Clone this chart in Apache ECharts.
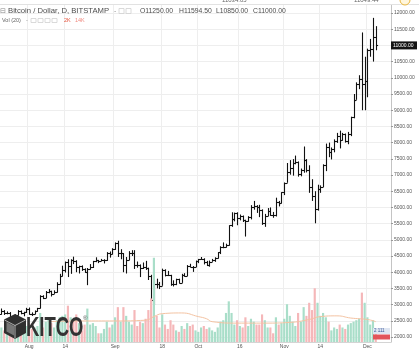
<!DOCTYPE html>
<html>
<head>
<meta charset="utf-8">
<script src="https://cdn.jsdelivr.net/npm/echarts@6/dist/echarts.min.js"></script>
<style>
    html, body { margin: 0; padding: 0; background: #fff; }
    #chart { width: 419px; height: 351px; }
</style>
</head>
<body>
<div id="chart"></div>
<script>
    // daily bars from 2017-07-22 to 2017-12-04 (BTC/USD, Bitstamp)
    const startDay = Date.UTC(2017, 6, 22);
    const dayCount = 141; // 136 bars + a few empty days on the right

    const opens = [
        2718, 2810, 2730, 2754, 2576, 2529, 2671, 2809, 2726, 2757,
        2875, 2718, 2710, 2804, 2895, 3252, 3213, 3378, 3419, 3342, 3381, 3650, 3884, 4073, 4325, 4181, 4376, 4331, 4160, 4193, 4088, 4001, 4100, 4151, 4334, 4371, 4352, 4382, 4382, 4579, 4565,
        4703, 4892, 4578, 4582, 4236, 4376, 4597, 4599, 4228, 4226, 4122, 4161, 4130, 3882, 3154, 3637, 3625, 3582, 4065, 3924, 3905, 3631, 3630, 3792, 3682, 3926, 3892, 4200, 4174, 4163,
        4338, 4403, 4409, 4317, 4229, 4328, 4370, 4426, 4611, 4772, 4781, 4826, 5446, 5647, 5831, 5679, 5725, 5605, 5590, 5708, 6011, 6031, 6008, 5930, 5526, 5750, 5904, 5780, 5753, 6153, 6130,
        6468, 6767, 7078, 7207, 7379, 7407, 7022, 7144, 7459, 7143, 6618, 6357, 5950, 6559, 6635, 7315, 7871, 7708, 7790, 8036, 8200, 8071, 8253, 8038, 8253, 8790, 9330, 9818, 9950, 9800,
        9900, 10850, 10900, 11250
    ];
    const highs = [
        2880, 2830, 2790, 2770, 2610, 2700, 2830, 2820, 2780, 2900,
        2910, 2760, 2820, 2900, 3290, 3290, 3420, 3480, 3430, 3440, 3690, 3950, 4200, 4330, 4400, 4400, 4480, 4370, 4200, 4210, 4120, 4130, 4250, 4350, 4460, 4380, 4410, 4400, 4620, 4640, 4740,
        4920, 4970, 4710, 4590, 4470, 4650, 4680, 4680, 4330, 4240, 4300, 4350, 4140, 3920, 3750, 3800, 3700, 4110, 4090, 4040, 3920, 3750, 3800, 3800, 3950, 3970, 4220, 4260, 4190, 4360,
        4410, 4470, 4430, 4350, 4360, 4410, 4460, 4620, 4800, 4920, 4880, 5450, 5850, 5840, 5850, 5780, 5750, 5620, 5730, 6070, 6200, 6070, 6080, 5940, 5800, 5980, 6000, 5860, 6300, 6200, 6470,
        6770, 7370, 7460, 7490, 7600, 7420, 7200, 7880, 7490, 7300, 6870, 6500, 6700, 6680, 7330, 7970, 8000, 7850, 8100, 8300, 8370, 8300, 8280, 8330, 8800, 9500, 9860, 10080, 11400, 10650,
        10900, 11200, 11850, 11594.5
    ];
    const lows = [
        2690, 2680, 2700, 2480, 2450, 2510, 2660, 2700, 2640, 2740,
        2690, 2650, 2700, 2780, 2880, 3170, 3200, 3350, 3250, 3330, 3370, 3620, 3870, 3990, 3850, 3950, 4250, 4000, 3960, 4040, 3980, 3600, 4080, 4130, 4310, 4280, 4340, 4270, 4350, 4450, 4550,
        4690, 4470, 4400, 4000, 3960, 4370, 4500, 4100, 4140, 3850, 4100, 4070, 3760, 3150, 2980, 3500, 3480, 3580, 3870, 3880, 3580, 3560, 3600, 3650, 3670, 3860, 3880, 4150, 4010, 4160,
        4280, 4380, 4240, 4190, 4170, 4320, 4320, 4420, 4560, 4740, 4760, 4820, 5400, 5570, 5450, 5600, 5550, 5100, 5560, 5630, 5930, 5830, 5700, 5460, 5400, 5730, 5740, 5680, 5720, 6030, 6120,
        6380, 6760, 7010, 6980, 7330, 6950, 6960, 7070, 7080, 6450, 6200, 5510, 5900, 6450, 6630, 7120, 7550, 7480, 7700, 7990, 7820, 8060, 8000, 7950, 8200, 8750, 9320, 9650, 9000, 9000,
        9400, 10650, 10500, 10850
    ];
    const closes = [
        2810, 2730, 2754, 2576, 2529, 2671, 2809, 2726, 2757, 2875,
        2718, 2710, 2804, 2895, 3252, 3213, 3378, 3419, 3342, 3381, 3650, 3884, 4073, 4325, 4181, 4376, 4331, 4160, 4193, 4088, 4001, 4100, 4151, 4334, 4371, 4352, 4382, 4382, 4579, 4565, 4703,
        4892, 4578, 4582, 4236, 4376, 4597, 4599, 4228, 4226, 4122, 4161, 4130, 3882, 3154, 3637, 3625, 3582, 4065, 3924, 3905, 3631, 3630, 3792, 3682, 3926, 3892, 4200, 4174, 4163, 4338,
        4403, 4409, 4317, 4229, 4328, 4370, 4426, 4611, 4772, 4781, 4826, 5446, 5647, 5831, 5679, 5725, 5605, 5590, 5708, 6011, 6031, 6008, 5930, 5526, 5750, 5904, 5780, 5753, 6153, 6130, 6468,
        6767, 7078, 7207, 7379, 7407, 7022, 7144, 7459, 7143, 6618, 6357, 5950, 6559, 6635, 7315, 7871, 7708, 7790, 8036, 8200, 8071, 8253, 8038, 8253, 8790, 9330, 9818, 9950, 9800, 9900,
        10850, 10900, 11250, 11000
    ];
    // volume in thousands of BTC
    const volumes = [
        10, 8, 9, 14, 12, 11, 12, 8, 9, 11,
        13, 9, 10, 11, 20, 10, 14, 16, 13, 10, 15, 17, 18, 19, 25, 17, 15, 19, 13, 8, 12, 23, 12, 13, 11, 6, 6, 9, 14, 10, 12,
        17, 24, 14, 24, 18, 14, 12, 22, 11, 14, 13, 16, 22, 30, 58, 18, 10, 19, 12, 9, 15, 12, 8, 7, 11, 9, 13, 11, 12, 8,
        7, 10, 11, 9, 10, 8, 7, 10, 14, 15, 20, 28, 20, 12, 15, 11, 10, 17, 11, 16, 14, 12, 12, 19, 15, 10, 10, 6, 17, 12, 13,
        16, 26, 18, 14, 11, 20, 14, 24, 18, 27, 22, 37, 27, 18, 20, 17, 14, 8, 10, 9, 12, 10, 9, 12, 13, 14, 15, 16, 34, 27,
        17, 12, 15, 6
    ];
    // Vol (20) moving average
    const volMaDates = ['2017-08-08', '2017-08-20', '2017-09-01', '2017-09-12', '2017-09-15', '2017-09-18', '2017-09-25', '2017-10-01', '2017-10-04', '2017-10-06', '2017-10-15', '2017-10-25', '2017-11-03', '2017-11-10', '2017-11-14', '2017-11-20', '2017-11-25', '2017-12-01', '2017-12-04'];
    const volMaValues = [14, 14.5, 14.5, 15, 17.5, 19.5, 20, 17.5, 16, 14, 13, 13, 13.5, 15.5, 17.5, 18, 16.5, 15.5, 14];

    const tickDates = ['2017-08-01', '2017-08-14', '2017-09-01', '2017-09-18', '2017-10-01', '2017-10-16', '2017-11-01', '2017-11-14', '2017-12-01'];
    const monthNames = ['Jan', 'Feb', 'Mar', 'Apr', 'May', 'Jun', 'Jul', 'Aug', 'Sep', 'Oct', 'Nov', 'Dec'];
    const priceMin = 2000, priceMax = 12000, priceStep = 500;

    const categories = [];
    for (let i = 0; i < dayCount; i++) {
        categories.push(new Date(startDay + i * 86400000).toISOString().slice(0, 10));
    }

    const upColor = '#a9dec9';
    const downColor = '#f5b7b9';
    const font = 'Liberation Sans, Arial, sans-serif';

    const isTick = (idx, val) => tickDates.indexOf(val) >= 0;
    const tickLabel = (val) => {
        const day = +val.slice(8);
        return day === 1 ? monthNames[+val.slice(5, 7) - 1] : String(day);
    };

    const txt = (x, y, text, size, fill, extra) => ({
        type: 'text', x: x, y: y, z: 100,
        style: Object.assign({ text: text, fontSize: size, fill: fill, verticalAlign: 'middle', fontFamily: font }, extra || {})
    });
    const box = (x, y, w, h) => ({
        type: 'rect', z: 100, shape: { x: x, y: y, width: w, height: h },
        style: { fill: 'none', stroke: '#d0d0d0', lineWidth: 0.8 }
    });

    const chart = echarts.init(document.getElementById('chart'));

    const graphics = [
        // header strip (cut off at the top)
        { type: 'line', z: 100, shape: { x1: 0, y1: 4.5, x2: 419, y2: 4.5 }, style: { stroke: '#e2e2e2' } },
        txt(222, 0.5, '11034.05', 6, '#666'),
        txt(354, 0.5, '11049.44', 6, '#666'),
        { type: 'circle', z: 100, shape: { cx: 405, cy: 0, r: 5 }, style: { fill: '#fff6dc', stroke: '#e8b53c', lineWidth: 1 } },
        // legend
        txt(0, 11, '⊟', 7, '#888', { fontFamily: 'DejaVu Sans' }),
        txt(8, 11, 'Bitcoin / Dollar, D, BITSTAMP', 7.7, '#4d4d4d'),
        txt(114, 11, '-', 7, '#999'),
        box(119, 8.5, 5, 5),
        box(126, 8.5, 5, 5),
        txt(140, 11, 'O11250.00', 6.8, '#4d4d4d'),
        txt(179, 11, 'H11594.50', 6.8, '#4d4d4d'),
        txt(216, 11, 'L10850.00', 6.8, '#4d4d4d'),
        txt(253, 11, 'C11000.00', 6.8, '#4d4d4d'),
        txt(2, 20.5, 'Vol (20)', 5.5, '#666'),
        txt(26, 20.5, '-', 5.5, '#999'),
        box(31, 18.5, 5, 4),
        box(38, 18.5, 5, 4),
        box(45, 18.5, 5, 4),
        box(52, 18.5, 5, 4),
        txt(64, 20.5, '2K', 5.5, '#e5533d'),
        txt(75, 20.5, '14K', 5.5, '#f08a80'),
        // KITCO logo
        { type: 'polygon', z: 100, shape: { points: [[15, 314], [26, 319.5], [26, 333], [15, 339], [4, 333], [4, 319.5]] }, style: { fill: '#2f2f2f' } },
        { type: 'polygon', z: 101, shape: { points: [[6.5, 322], [14, 326], [14, 335.5], [6.5, 331.5]] }, style: { fill: '#777' } },
        { type: 'polyline', z: 101, shape: { points: [[4.5, 320], [15, 325.5], [25.5, 320]] }, style: { stroke: '#cfcfcf', lineWidth: 0.8, fill: null } },
        { type: 'line', z: 101, shape: { x1: 15, y1: 325.5, x2: 15, y2: 338.5 }, style: { stroke: '#cfcfcf', lineWidth: 0.8 } },
        {
            type: 'text', x: 26, y: 328, z: 100, scaleX: 0.66,
            style: { text: 'KITCO', fontSize: 28, fontWeight: 'bold', fill: '#333', verticalAlign: 'middle', fontFamily: font }
        },
        txt(83, 318, '®', 6, '#555'),
        // last volume value tags
        { type: 'rect', z: 100, shape: { x: 373, y: 328, width: 17, height: 6 }, style: { fill: '#dfe6f2' } },
        txt(374, 331, '2 111', 4.5, '#3b5998'),
        { type: 'rect', z: 100, shape: { x: 373, y: 334.5, width: 17, height: 5 }, style: { fill: '#e2545a' } }
    ];

    const option = {
        animation: false,
        backgroundColor: '#fff',
        grid: [
            { left: -2, right: 28, top: 13, bottom: 14 },
            { left: -2, right: 28, top: 5, bottom: 9 }
        ],
        xAxis: [
            { type: 'category', gridIndex: 0, data: categories, show: false },
            {
                type: 'category', gridIndex: 1, data: categories,
                axisLine: { lineStyle: { color: '#d4d4d4' } },
                axisTick: { show: false },
                axisLabel: { interval: isTick, formatter: tickLabel, fontSize: 5, color: '#555', margin: 2, fontFamily: font },
                splitLine: { show: true, interval: isTick, lineStyle: { color: '#eeeeee', width: 1 } }
            }
        ],
        yAxis: [
            {
                type: 'value', gridIndex: 0, position: 'right',
                min: priceMin, max: priceMax, interval: priceStep,
                axisLine: { show: false },
                axisTick: { show: true, length: 2, lineStyle: { color: '#999' } },
                axisLabel: { fontSize: 5, color: '#555', margin: 3, fontFamily: font, formatter: v => v.toFixed(2) },
                splitLine: { lineStyle: { color: '#eeeeee' } }
            },
            {
                type: 'value', gridIndex: 1, position: 'right', min: 0, max: 232,
                axisLine: { show: true, lineStyle: { color: '#c4c4c4' } },
                axisTick: { show: false }, axisLabel: { show: false }, splitLine: { show: false }
            }
        ],
        series: [
            {
                name: 'Volume', type: 'bar', xAxisIndex: 1, yAxisIndex: 1,
                barCategoryGap: '22%',
                data: volumes.map((v, i) => ({
                    value: v,
                    itemStyle: { color: closes[i] >= opens[i] ? upColor : downColor }
                }))
            },
            {
                name: 'Vol MA', type: 'line', xAxisIndex: 1, yAxisIndex: 1,
                symbol: 'none', smooth: true,
                lineStyle: { color: '#f4c3a2', width: 1 },
                data: volMaDates.map((d, i) => [d, volMaValues[i]])
            },
            {
                name: 'BTCUSD', type: 'custom', xAxisIndex: 0, yAxisIndex: 0,
                encode: { x: 0, y: [1, 2, 3, 4] },
                data: opens.map((o, i) => [i, o, highs[i], lows[i], closes[i]]),
                renderItem: function (params, api) {
                    const idx = api.value(0);
                    const pO = api.coord([idx, api.value(1)]);
                    const pH = api.coord([idx, api.value(2)]);
                    const pL = api.coord([idx, api.value(3)]);
                    const pC = api.coord([idx, api.value(4)]);
                    const cx = Math.round(pH[0]) + 0.5;
                    const style = { stroke: '#111', lineWidth: 1.1 };
                    return {
                        type: 'group',
                        children: [
                            { type: 'line', shape: { x1: cx, y1: pH[1], x2: cx, y2: pL[1] }, style: style },
                            { type: 'line', shape: { x1: cx - 1.6, y1: Math.round(pO[1]) + 0.5, x2: cx, y2: Math.round(pO[1]) + 0.5 }, style: style },
                            { type: 'line', shape: { x1: cx, y1: Math.round(pC[1]) + 0.5, x2: cx + 1.6, y2: Math.round(pC[1]) + 0.5 }, style: style }
                        ]
                    };
                }
            }
        ],
        graphic: graphics
    };

    chart.setOption(option);

    // last price tag on the price axis
    const lastClose = closes[closes.length - 1];
    const tagY = chart.convertToPixel({ yAxisIndex: 0 }, lastClose);
    chart.setOption({
        graphic: graphics.concat([
            { type: 'rect', z: 110, shape: { x: 391, y: tagY - 4, width: 26, height: 8 }, style: { fill: '#131313' } },
            { type: 'text', z: 111, x: 393, y: tagY, style: { text: lastClose.toFixed(2), fontSize: 5, fill: '#fff', verticalAlign: 'middle', fontFamily: font } }
        ])
    });
</script>
</body>
</html>
